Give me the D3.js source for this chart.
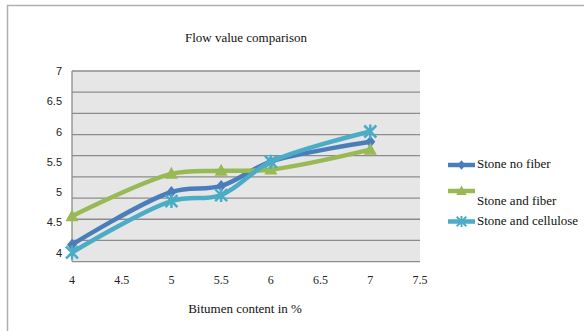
<!DOCTYPE html>
<html>
<head>
<meta charset="utf-8">
<script src="https://cdn.jsdelivr.net/npm/d3@7"></script>
<style>
  body { margin: 0; background: #fff; }
  svg { display: block; }
</style>
</head>
<body>
<div id="chart"></div>
<script>
// data
var bitumen = [4, 5, 5.5, 6, 7];
var stoneNoFiber = [4.13, 5.0, 5.1, 5.5, 5.83];
var stoneAndFiber = [4.6, 5.3, 5.35, 5.37, 5.7];
var stoneAndCellulose = [4.0, 4.85, 4.95, 5.5, 6.0];
var seriesNames = ["Stone no fiber", "Stone and fiber", "Stone and cellulose"];
var xTicks = [4, 4.5, 5, 5.5, 6, 6.5, 7, 7.5];
var yTicks = [4, 4.5, 5, 5.5, 6, 6.5, 7];
// gridlines in the source do not sit on the labelled ticks
var gridValues = [7, 6.65, 6.3, 5.95, 5.6, 5.25, 4.9, 4.55, 4.2, 3.85];

var svgWidth = 584;
var svgHeight = 331;

var svg = d3.select("#chart")
  .append("svg")
  .attr("width", svgWidth)
  .attr("height", svgHeight);

// outer frame (top and left edges visible)
svg.append("path")
  .attr("d", "M7.5,331 L7.5,5.5 L584,5.5")
  .attr("fill", "none")
  .attr("stroke", "#b0b0b0")
  .attr("stroke-width", 1.5);

var xScale = d3.scaleLinear().domain([4, 7.5]).range([72, 420]);
var yScale = d3.scaleLinear().domain([4, 7]).range([252.5, 71]);

// plot area
svg.append("rect")
  .attr("x", xScale(4))
  .attr("y", yScale(7))
  .attr("width", xScale(7.5) - xScale(4))
  .attr("height", yScale(3.85) - yScale(7))
  .attr("fill", "#e6e6e6");

svg.append("g")
  .selectAll("line")
  .data(gridValues)
  .enter()
  .append("line")
  .attr("x1", xScale(4))
  .attr("x2", xScale(7.5))
  .attr("y1", d => yScale(d))
  .attr("y2", d => yScale(d))
  .attr("stroke", "#8c8c8c")
  .attr("stroke-width", 1.3);

svg.append("line")
  .attr("x1", xScale(4)).attr("x2", xScale(4))
  .attr("y1", yScale(7)).attr("y2", yScale(3.85))
  .attr("stroke", "#8c8c8c")
  .attr("stroke-width", 1.3);

// y axis labels
svg.append("g")
  .selectAll("text")
  .data(yTicks)
  .enter()
  .append("text")
  .attr("x", 62)
  .attr("y", d => yScale(d) + 4)
  .attr("text-anchor", "end")
  .attr("font-family", "Liberation Sans, sans-serif")
  .attr("font-size", "11px")
  .attr("fill", "#222")
  .text(d => d);

// x axis labels
svg.append("g")
  .selectAll("text")
  .data(xTicks)
  .enter()
  .append("text")
  .attr("x", d => xScale(d))
  .attr("y", 284)
  .attr("text-anchor", "middle")
  .attr("font-family", "Liberation Serif, serif")
  .attr("font-size", "12px")
  .attr("fill", "#222")
  .text(d => d);

svg.append("text")
  .attr("x", 246)
  .attr("y", 42)
  .attr("text-anchor", "middle")
  .attr("font-family", "Liberation Serif, serif")
  .attr("font-size", "13px")
  .attr("fill", "#111")
  .text("Flow value comparison");

svg.append("text")
  .attr("x", 245)
  .attr("y", 313)
  .attr("text-anchor", "middle")
  .attr("font-family", "Liberation Serif, serif")
  .attr("font-size", "13px")
  .attr("fill", "#111")
  .text("Bitumen content in %");

var allSeries = [
  { name: seriesNames[0], values: stoneNoFiber, color: "#4a7ebb", marker: "diamond" },
  { name: seriesNames[1], values: stoneAndFiber, color: "#98b954", marker: "triangle" },
  { name: seriesNames[2], values: stoneAndCellulose, color: "#4bacc6", marker: "x" }
];

var line = d3.line()
  .x(d => xScale(d[0]))
  .y(d => yScale(d[1]))
  .curve(d3.curveCatmullRom.alpha(0.5));

function drawMarker(g, type, color) {
  if (type === "diamond") {
    g.append("path")
      .attr("d", "M0,-6 L5,0 L0,6 L-5,0 Z")
      .attr("fill", color);
  } else if (type === "triangle") {
    g.append("path")
      .attr("d", "M0,-7 L6.5,5 L-6.5,5 Z")
      .attr("fill", color);
  } else {
    g.append("path")
      .attr("d", "M-6,-6 L6,6 M-6,6 L6,-6 M0,-7 L0,7")
      .attr("stroke", color)
      .attr("stroke-width", 2.5)
      .attr("fill", "none");
  }
}

allSeries.forEach(function(s) {
  var pts = bitumen.map((x, i) => [x, s.values[i]]);
  svg.append("path")
    .datum(pts)
    .attr("d", line)
    .attr("fill", "none")
    .attr("stroke", s.color)
    .attr("stroke-width", 4.5)
    .attr("stroke-linejoin", "round");

  pts.forEach(function(p) {
    var g = svg.append("g")
      .attr("transform", `translate(${xScale(p[0])}, ${yScale(p[1])})`);
    drawMarker(g, s.marker, s.color);
  });
});

// legend
var legendLineY = [165, 191, 221.5];
var legendTextY = [168, 205, 225];
allSeries.forEach(function(s, i) {
  svg.append("line")
    .attr("x1", 448).attr("x2", 475)
    .attr("y1", legendLineY[i]).attr("y2", legendLineY[i])
    .attr("stroke", s.color)
    .attr("stroke-width", 4.5);
  var g = svg.append("g")
    .attr("transform", `translate(461.5, ${legendLineY[i]}) scale(0.8)`);
  drawMarker(g, s.marker, s.color);
  svg.append("text")
    .attr("x", 477)
    .attr("y", legendTextY[i])
    .attr("font-family", "Liberation Serif, serif")
    .attr("font-size", "13px")
    .attr("fill", "#111")
    .text(s.name);
});
</script>
</body>
</html>
